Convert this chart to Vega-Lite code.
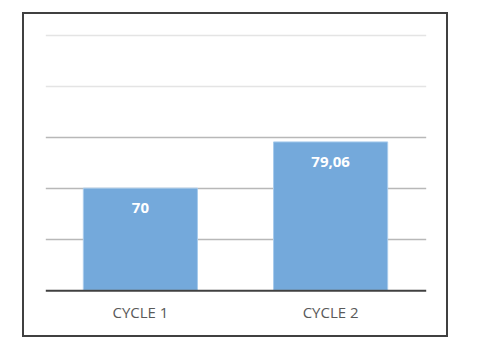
{
  "$schema": "https://vega.github.io/schema/vega-lite/v6.json",
  "width": 424,
  "height": 323,
  "autosize": {"type": "none"},
  "padding": {"left": 23, "top": 13, "right": 43, "bottom": 21},
  "background": "white",
  "config": {
    "view": {"stroke": "#404040", "strokeWidth": 2},
    "locale": {"number": {"decimal": ",", "thousands": ".", "grouping": [3], "currency": ["", " €"]}},
    "font": "Open Sans"
  },
  "data": {"values": [
    {"cycle": "CYCLE 1", "value": 70},
    {"cycle": "CYCLE 2", "value": 79.06}
  ]},
  "encoding": {
    "x": {
      "field": "cycle", "type": "nominal", "title": null,
      "scale": {"range": [22.3, 402.7], "paddingInner": 0.4, "paddingOuter": 0.2},
      "axis": {
        "labelAngle": 0, "ticks": false, "domainColor": "#404040", "domainWidth": 2,
        "labelColor": "#595959", "labelFontSize": 15, "labelFont": "Open Sans",
        "labelBaseline": "middle", "labelPadding": 22.5, "grid": false,
        "offset": -45.7, "zindex": 1
      }
    },
    "y": {
      "field": "value", "type": "quantitative", "title": null,
      "scale": {"domain": [50, 100], "range": [277.3, 22], "zero": false, "nice": false},
      "axis": {
        "values": [60, 70, 80, 90, 100], "labels": false, "ticks": false, "domain": false,
        "grid": true, "gridWidth": 1.3,
        "gridColor": {"condition": {"test": "datum.value >= 90", "value": "#e4e4e4"}, "value": "#b8b8b8"}
      }
    }
  },
  "layer": [
    {
      "mark": {"type": "bar", "color": "#74a9db", "stroke": "#a8cbec", "strokeWidth": 1},
      "encoding": {"y2": {"datum": 50}}
    },
    {
      "mark": {"type": "text", "color": "white", "fontWeight": "bold", "fontSize": 15, "font": "Open Sans", "baseline": "middle", "dy": 20},
      "encoding": {"text": {"field": "value", "type": "quantitative", "format": ".2~f"}}
    }
  ]
}
